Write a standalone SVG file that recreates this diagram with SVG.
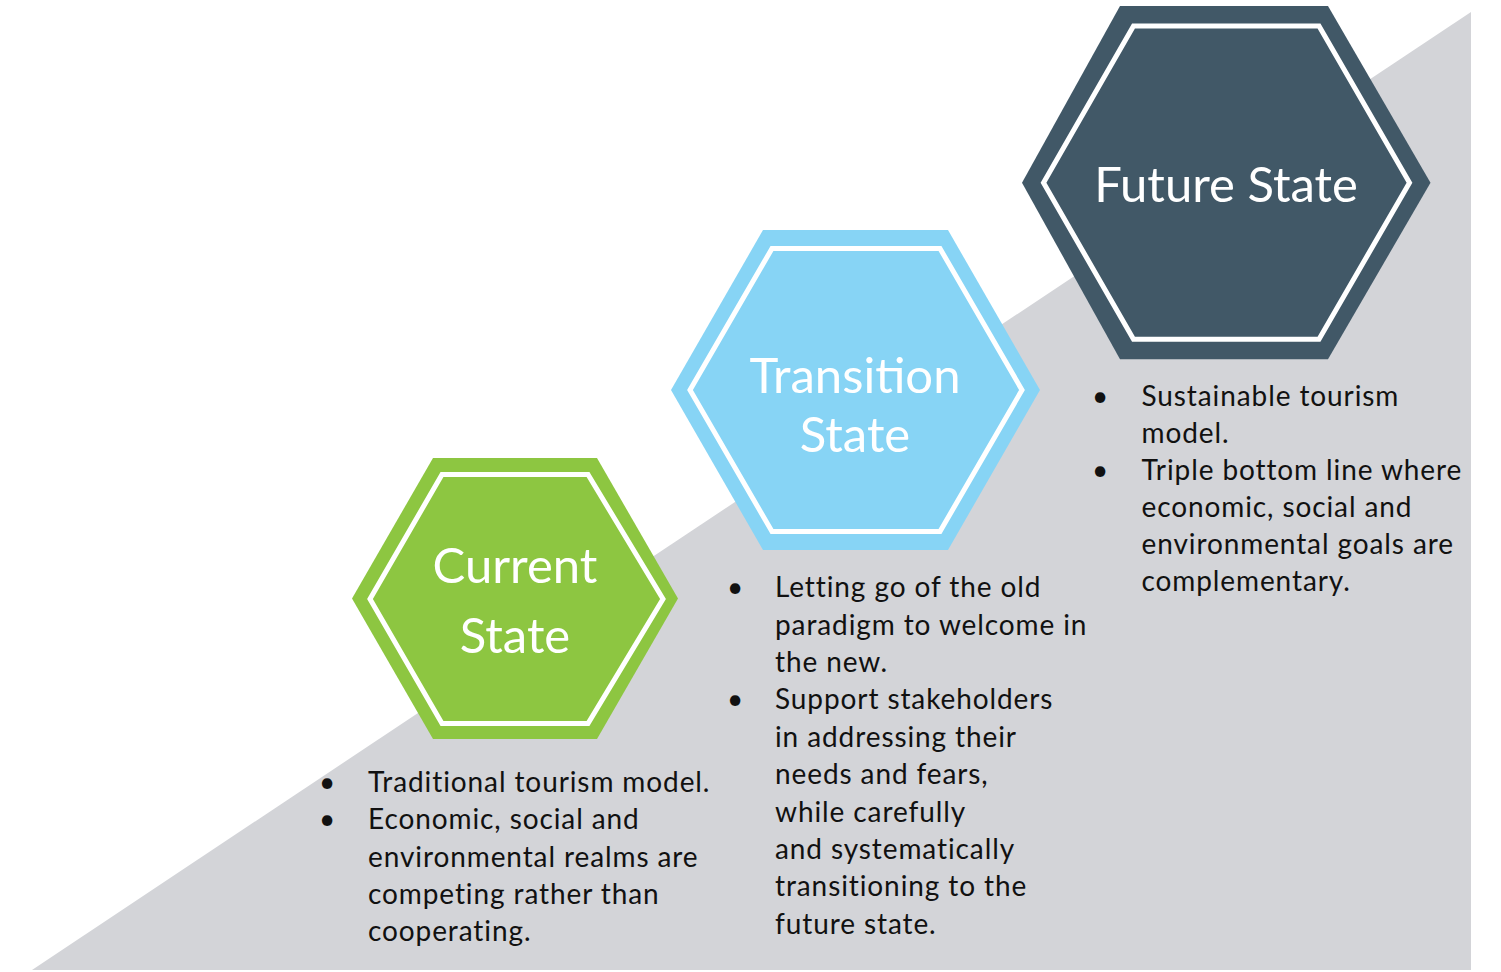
<svg xmlns="http://www.w3.org/2000/svg" width="1501" height="972" viewBox="0 0 1501 972">
<style>
.title{font-family:Lato,"Open Sans","Liberation Sans",sans-serif;font-size:49px;fill:#ffffff;text-anchor:middle}
.body{font-family:Lato,"Open Sans","Liberation Sans",sans-serif;font-size:28px;letter-spacing:0.9px;fill:#111111}
.bul{font-family:Lato,"Liberation Sans",sans-serif;font-size:28px;fill:#111111;text-anchor:middle}
.inner{fill:none;stroke:#ffffff;stroke-width:5}
</style>
<rect x="0" y="0" width="1501" height="972" fill="#ffffff"/>
<polygon id="ramp" points="32,970 1471,12 1471,970" fill="#d3d4d8"/>
<g id="connectors"></g>
<g id="current">
<polygon points="433,458 597,458 678,598.5 597,739 433,739 352,598.5" fill="#8dc641"/>
<polygon class="inner" points="442,474.5 588,474.5 663,599 588,723.5 442,723.5 370,599"/>
<text class="title" x="515" y="583">Current</text>
<text class="title" x="515" y="653">State</text>
</g>
<g id="transition">
<polygon points="763,230 948,230 1040,390 948,550 763,550 671,390" fill="#87d4f5"/>
<polygon class="inner" points="772,248.5 940,248.5 1022,390 940,531.5 772,531.5 690,390" />
<text class="title" x="855" y="393">Transition</text>
<text class="title" x="855" y="452">State</text>
</g>
<g id="future">
<polygon points="1120,6 1328,6 1430.5,182.7 1328,359.3 1120,359.3 1022,182.7" fill="#415867"/>
<polygon class="inner" points="1133.5,26 1319,26 1409.5,182.7 1319,339.3 1133.5,339.3 1043.5,182.7"/>
<text class="title" x="1226" y="202">Future State</text>
</g>
<g id="current-notes">
<text class="bul" x="327" y="792">•</text>
<text class="bul" x="327" y="829.3">•</text>
<text class="body" x="368" y="792">Traditional tourism model.</text>
<text class="body" x="368" y="829.3">Economic, social and</text>
<text class="body" x="368" y="866.6">environmental realms are</text>
<text class="body" x="368" y="903.9">competing rather than</text>
<text class="body" x="368" y="941.2">cooperating.</text>
</g>
<g id="transition-notes">
<text class="bul" x="735" y="597.3">•</text>
<text class="bul" x="735" y="709.4">•</text>
<text class="body" x="775" y="597.3">Letting go of the old</text>
<text class="body" x="775" y="634.7">paradigm to welcome in</text>
<text class="body" x="775" y="672">the new.</text>
<text class="body" x="775" y="709.4">Support stakeholders</text>
<text class="body" x="775" y="746.8">in addressing their</text>
<text class="body" x="775" y="784.2">needs and fears,</text>
<text class="body" x="775" y="821.6">while carefully</text>
<text class="body" x="775" y="859">and systematically</text>
<text class="body" x="775" y="896.4">transitioning to the</text>
<text class="body" x="775" y="933.8">future state.</text>
</g>
<g id="future-notes">
<text class="bul" x="1100" y="405.5">•</text>
<text class="bul" x="1100" y="479.5">•</text>
<text class="body" x="1141.5" y="405.5">Sustainable tourism</text>
<text class="body" x="1141.5" y="442.5">model.</text>
<text class="body" x="1141.5" y="479.5">Triple bottom line where</text>
<text class="body" x="1141.5" y="516.7">economic, social and</text>
<text class="body" x="1141.5" y="554">environmental goals are</text>
<text class="body" x="1141.5" y="591.2">complementary.</text>
</g>
</svg>
